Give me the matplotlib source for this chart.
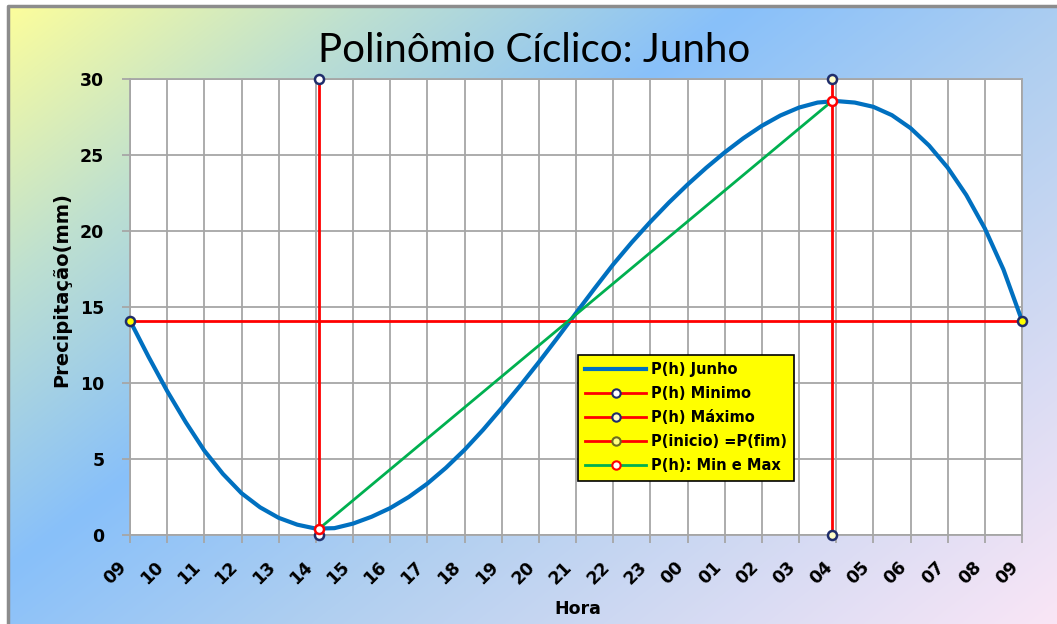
import numpy as np
import matplotlib.pyplot as plt
from matplotlib.lines import Line2D

# hour labels along the x axis (09h to 09h next day)
hour_labels = ['09', '10', '11', '12', '13', '14', '15', '16', '17', '18', '19', '20',
               '21', '22', '23', '00', '01', '02', '03', '04', '05', '06', '07', '08', '09']

# precipitation (mm) read every half hour, from 09:00 to 09:00
precip_junho = [14.1, 11.72, 9.47, 7.42, 5.55, 4.02, 2.75, 1.82, 1.13, 0.68, 0.42, 0.45,
                0.75, 1.2, 1.77, 2.5, 3.38, 4.42, 5.6, 6.92, 8.35, 9.83, 11.37, 12.97,
                14.6, 16.22, 17.8, 19.25, 20.6, 21.87, 23.05, 24.15, 25.17, 26.1, 26.92,
                27.6, 28.12, 28.45, 28.55, 28.45, 28.17, 27.62, 26.77, 25.62, 24.17,
                22.37, 20.17, 17.47, 14.1]

# extremes (position in hours from 09h)
min_hour = 5.08
min_value = 0.4
max_hour = 18.9
max_value = 28.57
p_inicio = 14.1
y_max = 30

plt.rcParams['font.family'] = ['DejaVu Sans']

W, H = 1057, 624
fig = plt.figure(figsize=(W / 100, H / 100), dpi=100)

# gradient background of the chart area
bg = fig.add_axes([0, 0, 1, 1], zorder=-10)
yy, xx = np.mgrid[0:H, 0:W]
t = (xx + 1.3 * yy) / (W + 1.3 * H)
stops = [0.0, 0.2, 0.4, 0.6, 1.0]
cols = np.array([[255, 255, 153], [190, 224, 208], [136, 192, 250],
                 [176, 207, 240], [250, 230, 246]]) / 255.0
img = np.stack([np.interp(t, stops, cols[:, k]) for k in range(3)], axis=-1)
img[(xx < 8) | (yy < 6)] = 1.0
bg.imshow(img, extent=[0, W, H, 0], aspect='auto', interpolation='bilinear')
bg.plot([8, 8, W], [H, 6, 6], color='#8C8C8C', lw=2.5)
bg.set_xlim(0, W)
bg.set_ylim(H, 0)
bg.axis('off')

ax = fig.add_axes([130 / W, 1 - 535 / H, 892 / W, 456 / H])
ax.set_facecolor('white')

x_half = np.linspace(0, len(hour_labels) - 1, len(precip_junho))
navy = '#1F2D6B'
ax.plot(x_half, precip_junho, color='#0070C0', lw=3, solid_joinstyle='round',
        solid_capstyle='round', zorder=3)
ax.plot([min_hour, min_hour], [0, y_max], color='red', lw=2, marker='o', ms=6.5,
        mfc='white', mec=navy, mew=1.8, clip_on=False, zorder=4)
ax.plot([max_hour, max_hour], [0, y_max], color='red', lw=2, marker='o', ms=6.5,
        mfc='#FFFFC8', mec=navy, mew=1.8, clip_on=False, zorder=4)
ax.plot([0, len(hour_labels) - 1], [p_inicio, p_inicio], color='red', lw=2, marker='o',
        ms=6.5, mfc='#FFFF00', mec=navy, mew=1.8, clip_on=False, zorder=4)
ax.plot([min_hour, max_hour], [min_value, max_value], color='#00B050', lw=2, marker='o',
        ms=6.5, mfc='white', mec='red', mew=1.8, clip_on=False, zorder=5)

ax.set_xlim(0, 24)
ax.set_ylim(0, 30)
ax.set_xticks(range(len(hour_labels)))
ax.set_xticklabels(hour_labels, rotation=45, ha='right', fontsize=12.5, fontweight='bold')
ax.set_yticks(range(0, 31, 5))
ax.set_yticklabels([str(v) for v in range(0, 31, 5)], fontsize=12.5, fontweight='bold')
ax.grid(True, color='#A6A6A6', lw=1.3)
ax.set_axisbelow(True)
for s in ax.spines.values():
    s.set_color('#A6A6A6')
    s.set_linewidth(1.3)
ax.tick_params(axis='both', length=5.5, width=1.3, color='#A6A6A6', direction='out')
ax.tick_params(axis='x', pad=11)
ax.tick_params(axis='y', pad=13)

handles = [
    Line2D([], [], color='#0070C0', lw=3),
    Line2D([], [], color='red', lw=2, marker='o', ms=6, mfc='white', mec=navy, mew=1.5),
    Line2D([], [], color='red', lw=2, marker='o', ms=6, mfc='#FFFFC8', mec=navy, mew=1.5),
    Line2D([], [], color='red', lw=2, marker='o', ms=6, mfc='#FFFF80', mec='#6B6B20', mew=1.5),
    Line2D([], [], color='#00B050', lw=2, marker='o', ms=6, mfc='white', mec='red', mew=1.5),
]
labels = ['P(h) Junho', 'P(h) Minimo', 'P(h) Máximo', 'P(inicio) =P(fim)', 'P(h): Min e Max']
leg = ax.legend(handles, labels, loc='upper left', bbox_to_anchor=(0.502, 0.395),
                borderaxespad=0, fancybox=False, framealpha=1, facecolor='#FFFF00',
                edgecolor='black', prop={'weight': 'bold', 'size': 10.5},
                handlelength=4.2, labelspacing=0.62, handletextpad=0.3, borderpad=0.5)
leg.get_frame().set_linewidth(1.2)
leg.set_zorder(10)

fig.text(534 / W, 1 - 50 / H, 'Polinômio Cíclico: Junho', ha='center', va='center',
         fontsize=29, family=['Lato', 'DejaVu Sans'])
fig.text(62 / W, 1 - 290 / H, 'Precipitação(mm)', ha='center', va='center', rotation=90,
         fontsize=14, fontweight='bold')
fig.text(578 / W, 1 - 609 / H, 'Hora', ha='center', va='center', fontsize=12.5,
         fontweight='bold')

fig.savefig('out.png', dpi=100)
